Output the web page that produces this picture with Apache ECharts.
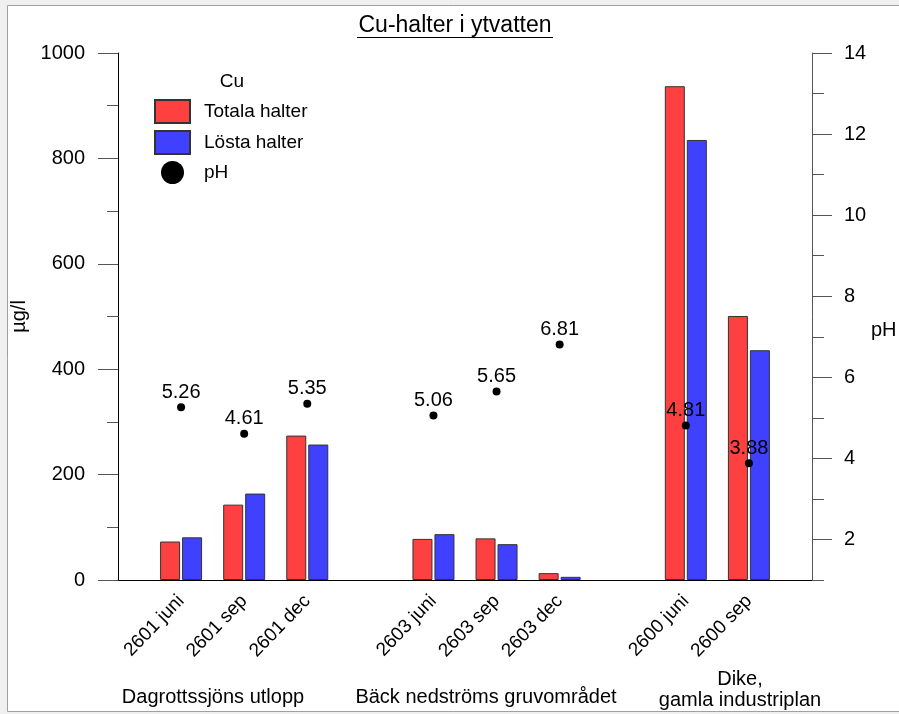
<!DOCTYPE html>
<html>
<head>
<meta charset="utf-8">
<script src="https://cdn.jsdelivr.net/npm/echarts@6/dist/echarts.min.js"></script>
<style>
html,body{margin:0;padding:0;background:#f0f0f0;}
#c{width:899px;height:714px;}
</style>
</head>
<body>
<div id="c"></div>
<script>
var titleText = "Cu-halter i ytvatten";
var categories = ["", "2601 juni", "2601 sep", "2601 dec", "", "2603 juni", "2603 sep", "2603 dec", "", "2600 juni", "2600 sep", ""];
var totalValues = ['-', 73, 143, 274, '-', 78, 79, 13, '-', 937, 501, '-'];
var dissolvedValues = ['-', 81, 164, 257, '-', 87, 68, 6, '-', 835, 436, '-'];
var phValues = ['-', 5.26, 4.61, 5.35, '-', 5.06, 5.65, 6.81, '-', 4.81, 3.88, '-'];
var groupLabels = ["Dagrottssjöns utlopp", "Bäck nedströms gruvområdet", "Dike,\ngamla industriplan"];
var phMajorTicks = [2, 4, 6, 8, 10, 12, 14];
var phMinorTicks = [1, 3, 5, 7, 9, 11, 13];
var seriesNames = ["Totala halter", "Lösta halter", "pH"];
var legendTitle = "Cu";
var leftAxisName = "µg/l";
var rightAxisName = "pH";

var FONT = "Liberation Sans";
var chart = echarts.init(document.getElementById('c'), null, {renderer: 'canvas'});
var option = {
  backgroundColor: '#f0f0f0',
  animation: false,
  textStyle: {fontFamily: FONT},
  graphic: [
    {type: 'rect', z: -10, shape: {x: 7.5, y: 5.5, width: 900, height: 706}, style: {fill: '#ffffff', stroke: '#a0a0a0', lineWidth: 1}},
    {type: 'text', x: 455, y: 14, style: {text: titleText, font: '23px "Liberation Sans"', fill: '#000', textAlign: 'center'}},
    {type: 'line', shape: {x1: 357, y1: 37.5, x2: 553, y2: 37.5}, style: {stroke: '#000', lineWidth: 1}},
    {type: 'text', x: 232, y: 72, style: {text: legendTitle, font: '19px "Liberation Sans"', fill: '#000', textAlign: 'center'}},
    {type: 'text', x: 871, y: 320, style: {text: rightAxisName, font: '20px "Liberation Sans"', fill: '#000', textAlign: 'left'}},
    {type: 'text', x: 213, y: 687, style: {text: groupLabels[0], font: '20px "Liberation Sans"', fill: '#000', textAlign: 'center'}},
    {type: 'text', x: 486, y: 687, style: {text: groupLabels[1], font: '20px "Liberation Sans"', fill: '#000', textAlign: 'center'}},
    {type: 'text', x: 740, y: 669, style: {text: groupLabels[2], font: '20px "Liberation Sans"', fill: '#000', textAlign: 'center', lineHeight: 21}}
  ],
  legend: {
    orient: 'vertical',
    left: 154, top: 99, padding: 0,
    itemWidth: 35, itemHeight: 23, itemGap: 6,
    textStyle: {fontSize: 19, fontFamily: FONT, color: '#000', padding: [0, 0, 0, 9]},
    data: [
      {name: seriesNames[0], icon: 'rect'},
      {name: seriesNames[1], icon: 'rect'},
      {name: seriesNames[2], icon: 'circle'}
    ]
  },
  grid: {left: 118, right: 87, top: 53, bottom: 134, containLabel: false},
  xAxis: {
    type: 'category',
    data: categories,
    boundaryGap: false,
    axisLine: {lineStyle: {color: '#000', width: 1}},
    axisTick: {show: false},
    axisLabel: {rotate: 46, interval: 0, margin: 18, fontSize: 19, fontFamily: FONT, color: '#000'},
    splitLine: {show: false}
  },
  yAxis: [
    {
      type: 'value', min: 0, max: 1000, interval: 200, position: 'left',
      name: leftAxisName, nameLocation: 'middle', nameGap: 88, nameRotate: 90,
      nameTextStyle: {fontSize: 20, fontFamily: FONT, color: '#000'},
      axisLine: {show: true, lineStyle: {color: '#000'}},
      axisTick: {show: true, length: 20, lineStyle: {color: '#555'}},
      minorTick: {show: true, splitNumber: 2, length: 11, lineStyle: {color: '#555'}},
      axisLabel: {margin: 33, fontSize: 20, fontFamily: FONT, color: '#000', formatter: function (v) { return String(v); }},
      splitLine: {show: false}
    },
    {
      type: 'value', min: 1, max: 14, position: 'right',
      axisLine: {show: true, lineStyle: {color: '#555'}},
      axisTick: {show: true, length: 20, customValues: phMajorTicks, lineStyle: {color: '#555'}},
      axisLabel: {margin: 32, fontSize: 20, fontFamily: FONT, color: '#000', customValues: phMajorTicks},
      splitLine: {show: false}
    },
    {
      type: 'value', min: 1, max: 14, position: 'right',
      axisLine: {show: false},
      axisTick: {show: true, length: 12, customValues: phMinorTicks, lineStyle: {color: '#555'}},
      axisLabel: {show: false, customValues: phMinorTicks},
      splitLine: {show: false}
    }
  ],
  series: [
    {
      name: seriesNames[0], type: 'bar', data: totalValues, barWidth: 20, barGap: '10%',
      itemStyle: {color: '#ff4040', borderColor: '#333', borderWidth: 1}
    },
    {
      name: seriesNames[1], type: 'bar', data: dissolvedValues, barWidth: 20, barGap: '10%',
      itemStyle: {color: '#4040ff', borderColor: '#333', borderWidth: 1}
    },
    {
      name: seriesNames[2], type: 'scatter', yAxisIndex: 1, data: phValues, symbolSize: 8, z: 5,
      itemStyle: {color: '#000', opacity: 1},
      label: {show: true, position: 'top', distance: 1, fontSize: 20, fontFamily: FONT, color: '#000'}
    }
  ]
};
chart.setOption(option);
</script>
</body>
</html>
